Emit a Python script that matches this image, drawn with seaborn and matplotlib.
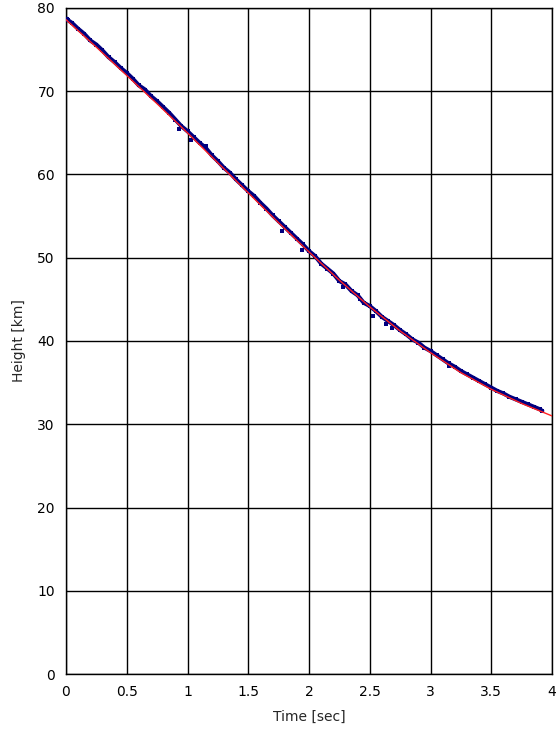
#!/usr/bin/env python3
import numpy as np
import pandas as pd
import matplotlib
matplotlib.use("Agg")
import matplotlib.pyplot as plt
import seaborn as sns

# observed track (blue), main band
obs_time = [0.00, 0.01, 0.02, 0.05, 0.10, 0.15, 0.20, 0.25, 0.30, 0.35, 0.40,
            0.45, 0.50, 0.55, 0.60, 0.65, 0.70, 0.75, 0.80, 0.85, 0.90, 0.95,
            1.00, 1.05, 1.10, 1.15, 1.20, 1.25, 1.30, 1.35, 1.40, 1.45,
            1.50, 1.55, 1.60, 1.65, 1.70, 1.75, 1.80, 1.85, 1.90,
            1.95, 2.00, 2.05, 2.10, 2.15, 2.20, 2.25, 2.30, 2.35, 2.40,
            2.45, 2.50, 2.55, 2.60, 2.65, 2.70, 2.75, 2.80, 2.85,
            2.90, 2.95, 3.00, 3.05, 3.10, 3.15, 3.20, 3.25, 3.30, 3.35, 3.40,
            3.45, 3.50, 3.55, 3.60, 3.65, 3.70, 3.75, 3.80, 3.85, 3.90, 3.92]
obs_height = [78.6, 78.7, 78.5, 78.2, 77.5, 76.9, 76.1, 75.6, 74.9, 74.1, 73.5,
              72.8, 72.2, 71.5, 70.7, 70.2, 69.4, 68.8, 68.1, 67.4, 66.6, 65.8,
              65.2, 64.5, 63.8, 63.2, 62.3, 61.6, 60.8, 60.2, 59.4, 58.7,
              58.0, 57.4, 56.6, 55.9, 55.1, 54.4, 53.7, 53.0, 52.3,
              51.6, 50.8, 50.2, 49.3, 48.7, 48.1, 47.2, 46.8, 46.0, 45.5,
              44.6, 44.2, 43.6, 42.9, 42.4, 41.9, 41.3, 40.8, 40.2,
              39.8, 39.2, 38.8, 38.3, 37.8, 37.3, 36.9, 36.4, 36.0, 35.6, 35.2,
              34.8, 34.4, 34.0, 33.7, 33.3, 33.0, 32.7, 32.4, 32.1, 31.8, 31.6]

# scattered outlying detections (blue)
out_time = [0.93, 1.03, 1.15, 1.78, 1.94, 2.28, 2.42, 2.53, 2.63, 2.68, 3.15]
out_height = [65.5, 64.2, 63.4, 53.2, 50.9, 46.5, 45.0, 43.0, 42.0, 41.6, 37.0]

# fitted curve (red)
fit_time = [0.00, 0.25, 0.50, 0.75, 1.00, 1.25, 1.50, 1.75, 2.00, 2.25, 2.50,
            2.75, 3.00, 3.25, 3.50, 3.75, 4.00]
fit_height = [78.6, 75.3, 71.9, 68.5, 65.0, 61.4, 57.8, 54.2, 50.7, 47.3, 44.1,
              41.2, 38.6, 36.2, 34.2, 32.5, 31.0]

x_ticks = [0, 0.5, 1, 1.5, 2, 2.5, 3, 3.5, 4]
x_labels = ["0", "0.5", "1", "1.5", "2", "2.5", "3", "3.5", "4"]
y_ticks = [0, 10, 20, 30, 40, 50, 60, 70, 80]

sns.set_style("white")
plt.rcParams["font.family"] = ["DejaVu Sans"]

obs = pd.DataFrame({"t": obs_time, "h": obs_height})
outl = pd.DataFrame({"t": out_time, "h": out_height})
fit = pd.DataFrame({"t": fit_time, "h": fit_height})

fig = plt.figure(figsize=(5.6, 7.32), dpi=100)
ax = fig.add_axes([66 / 560, 1 - 674 / 732, 486 / 560, 666 / 732])

NAVY = "#000080"
sns.lineplot(data=obs, x="t", y="h", ax=ax, color=NAVY, linewidth=3.0,
             zorder=3, legend=False)
sns.scatterplot(data=obs, x="t", y="h", ax=ax, marker="s", s=7,
                color=NAVY, linewidth=0, zorder=3, legend=False)
sns.scatterplot(data=outl, x="t", y="h", ax=ax, marker="s", s=10,
                color=NAVY, linewidth=0, zorder=3, legend=False)
sns.lineplot(data=fit, x="t", y="h", ax=ax, color="#ff2020", linewidth=1.0,
             zorder=4, legend=False)

ax.set_xlim(0, 4)
ax.set_ylim(0, 80)
ax.set_xticks(x_ticks)
ax.set_xticklabels(x_labels)
ax.set_yticks(y_ticks)
ax.grid(True, color="black", linewidth=1.0)
ax.set_axisbelow(True)
for s in ax.spines.values():
    s.set_color("black")
    s.set_linewidth(1.0)
ax.tick_params(axis="both", direction="in", length=3, labelsize=10,
               colors="black", pad=8)
ax.set_xlabel("Time [sec]", fontsize=10, labelpad=8)
ax.set_ylabel("Height [km]", fontsize=10, labelpad=8)

fig.savefig("out.png", dpi=100)
